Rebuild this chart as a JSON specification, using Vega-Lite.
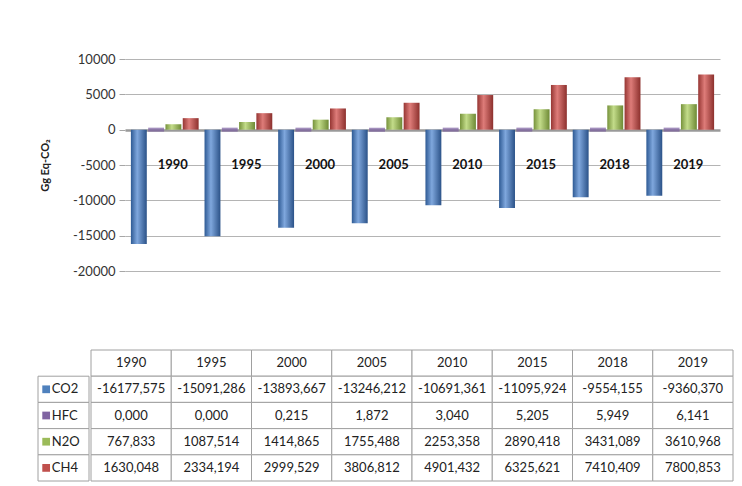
{
  "$schema": "https://vega.github.io/schema/vega-lite/v6.json",
  "padding": {"left": 37, "top": 53, "right": 10, "bottom": 4},
  "background": "white",
  "config": {
    "locale": {"number": {"decimal": ",", "thousands": ".", "grouping": [3], "currency": ["", ""], "minus": "-"}},
    "font": "Lato",
    "view": {"stroke": null}
  },
  "datasets": {
    "ghg": [
      {"series": "CO2", "year": "1990", "value": -16177.575},
      {"series": "CO2", "year": "1995", "value": -15091.286},
      {"series": "CO2", "year": "2000", "value": -13893.667},
      {"series": "CO2", "year": "2005", "value": -13246.212},
      {"series": "CO2", "year": "2010", "value": -10691.361},
      {"series": "CO2", "year": "2015", "value": -11095.924},
      {"series": "CO2", "year": "2018", "value": -9554.155},
      {"series": "CO2", "year": "2019", "value": -9360.370},
      {"series": "HFC", "year": "1990", "value": 0.0},
      {"series": "HFC", "year": "1995", "value": 0.0},
      {"series": "HFC", "year": "2000", "value": 0.215},
      {"series": "HFC", "year": "2005", "value": 1.872},
      {"series": "HFC", "year": "2010", "value": 3.040},
      {"series": "HFC", "year": "2015", "value": 5.205},
      {"series": "HFC", "year": "2018", "value": 5.949},
      {"series": "HFC", "year": "2019", "value": 6.141},
      {"series": "N2O", "year": "1990", "value": 767.833},
      {"series": "N2O", "year": "1995", "value": 1087.514},
      {"series": "N2O", "year": "2000", "value": 1414.865},
      {"series": "N2O", "year": "2005", "value": 1755.488},
      {"series": "N2O", "year": "2010", "value": 2253.358},
      {"series": "N2O", "year": "2015", "value": 2890.418},
      {"series": "N2O", "year": "2018", "value": 3431.089},
      {"series": "N2O", "year": "2019", "value": 3610.968},
      {"series": "CH4", "year": "1990", "value": 1630.048},
      {"series": "CH4", "year": "1995", "value": 2334.194},
      {"series": "CH4", "year": "2000", "value": 2999.529},
      {"series": "CH4", "year": "2005", "value": 3806.812},
      {"series": "CH4", "year": "2010", "value": 4901.432},
      {"series": "CH4", "year": "2015", "value": 6325.621},
      {"series": "CH4", "year": "2018", "value": 7410.409},
      {"series": "CH4", "year": "2019", "value": 7800.853}
    ]
  },
  "spacing": 71,
  "vconcat": [
    {
      "spacing": 0,
      "hconcat": [
        {
          "width": 1,
          "height": 212,
          "data": {"values": [{}]},
          "mark": {"type": "text"},
          "encoding": {"text": {"value": ""}}
        },
        {
          "width": 595,
          "height": 212,
          "data": {"name": "ghg"},
          "encoding": {
            "x": {"field": "year", "type": "ordinal", "axis": null,
                  "scale": {"domain": ["1990","1995","2000","2005","2010","2015","2018","2019"], "paddingInner": 0.08, "paddingOuter": 0.08}},
            "y": {"field": "value", "type": "quantitative",
              "scale": {"domain": [-20000, 10000], "nice": false},
              "axis": {
                "values": [-20000, -15000, -10000, -5000, 0, 5000, 10000],
                "format": "d",
                "title": "Gg Eq-CO₂",
                "titleFontWeight": "bold",
                "titleFontSize": 11,
                "titleColor": "#222",
                "titlePadding": 22,
                "labelFontSize": 13,
                "labelColor": "#333",
                "labelPadding": 4,
                "labelOverlap": false,
                "domain": false,
                "tickColor": "#A6A6A6",
                "tickSize": 6,
                "grid": true,
                "gridColor": {"condition": {"test": "datum.value === 0", "value": "#9A9A9A"}, "value": "#B4B4B4"},
                "gridWidth": {"condition": {"test": "datum.value === 0", "value": 2.5}, "value": 1}
              }}
          },
          "layer": [
            {
              "transform": [{"filter": "datum.series === 'CO2'"}],
              "mark": {"type": "bar", "color": {"gradient": "linear", "stops": [{"offset": 0, "color": "#2E5A94"}, {"offset": 0.4, "color": "#7FA7DD"}, {"offset": 1, "color": "#2B5288"}]}},
              "encoding": {
                "xOffset": {"field": "series", "type": "nominal", "scale": {"domain": ["CO2","HFC","N2O","CH4"], "paddingInner": 0.08}}
              }
            },
            {
              "transform": [{"filter": "datum.series === 'HFC'"}],
              "mark": {"type": "tick", "thickness": 4, "bandSize": 16, "color": "#7A5EA0"},
              "encoding": {"xOffset": {"field": "series", "type": "nominal"}}
            },
            {
              "transform": [{"filter": "datum.series === 'N2O'"}],
              "mark": {"type": "bar", "color": {"gradient": "linear", "stops": [{"offset": 0, "color": "#76923B"}, {"offset": 0.4, "color": "#C3DC8A"}, {"offset": 1, "color": "#6E8A35"}]}},
              "encoding": {"xOffset": {"field": "series", "type": "nominal"}}
            },
            {
              "transform": [{"filter": "datum.series === 'CH4'"}],
              "mark": {"type": "bar", "color": {"gradient": "linear", "stops": [{"offset": 0, "color": "#963633"}, {"offset": 0.4, "color": "#DE7C79"}, {"offset": 1, "color": "#8C302D"}]}},
              "encoding": {"xOffset": {"field": "series", "type": "nominal"}}
            },
            {
              "transform": [{"filter": "datum.series === 'HFC'"}],
              "mark": {"type": "text", "fontWeight": "bold", "fontSize": 13, "color": "#111", "dx": 8},
              "encoding": {
                "y": {"datum": -5000, "type": "quantitative"},
                "text": {"field": "year", "type": "nominal"}
              }
            }
          ]
        }
      ]
    },
    {
      "spacing": 0,
      "hconcat": [
        {
          "width": 51,
          "height": 131,
          "data": {"name": "ghg"},
          "transform": [{"aggregate": [{"op": "count", "as": "n"}], "groupby": ["series"]}],
          "encoding": {
            "y": {"field": "series", "type": "nominal", "axis": null,
                  "scale": {"domain": ["header","CO2","HFC","N2O","CH4"], "paddingInner": 0, "paddingOuter": 0}}
          },
          "layer": [
            {
              "mark": {"type": "rect", "fill": "white", "stroke": "#A0A0A0", "strokeWidth": 1},
              "encoding": {
                "x": {"datum": 0, "type": "quantitative", "scale": {"domain": [0, 1]}, "axis": null},
                "x2": {"datum": 1}
              }
            },
            {
              "mark": {"type": "point", "shape": "square", "filled": true, "size": 60, "opacity": 1},
              "encoding": {
                "x": {"datum": 0.16, "type": "quantitative"},
                "color": {"field": "series", "type": "nominal", "legend": null,
                          "scale": {"domain": ["CO2","HFC","N2O","CH4"], "range": ["#4F81BD","#8064A2","#9BBB59","#C0504D"]}}
              }
            },
            {
              "mark": {"type": "text", "align": "left", "fontSize": 13, "color": "#222"},
              "encoding": {
                "x": {"datum": 0.27, "type": "quantitative"},
                "text": {"field": "series", "type": "nominal"}
              }
            }
          ]
        },
        {
          "width": 642,
          "height": 131,
          "data": {"name": "ghg"},
          "encoding": {
            "x": {"field": "year", "type": "ordinal", "axis": null,
                  "scale": {"domain": ["1990","1995","2000","2005","2010","2015","2018","2019"], "paddingInner": 0, "paddingOuter": 0}}
          },
          "layer": [
            {
              "transform": [{"filter": "datum.series === 'CO2'"}],
              "layer": [
                {
                  "mark": {"type": "rect", "fill": "white", "stroke": "#A0A0A0", "strokeWidth": 1},
                  "encoding": {"y": {"datum": "header", "type": "nominal",
                                     "scale": {"domain": ["header","CO2","HFC","N2O","CH4"], "paddingInner": 0, "paddingOuter": 0}, "axis": null}}
                },
                {
                  "mark": {"type": "text", "fontSize": 13, "color": "#222"},
                  "encoding": {
                    "y": {"datum": "header", "type": "nominal"},
                    "text": {"field": "year", "type": "nominal"}
                  }
                }
              ]
            },
            {
              "mark": {"type": "rect", "fill": "white", "stroke": "#A0A0A0", "strokeWidth": 1},
              "encoding": {"y": {"field": "series", "type": "nominal"}}
            },
            {
              "mark": {"type": "text", "fontSize": 13, "color": "#222"},
              "encoding": {
                "y": {"field": "series", "type": "nominal"},
                "text": {"field": "value", "type": "quantitative", "format": ".3f"}
              }
            }
          ]
        }
      ]
    }
  ]
}
